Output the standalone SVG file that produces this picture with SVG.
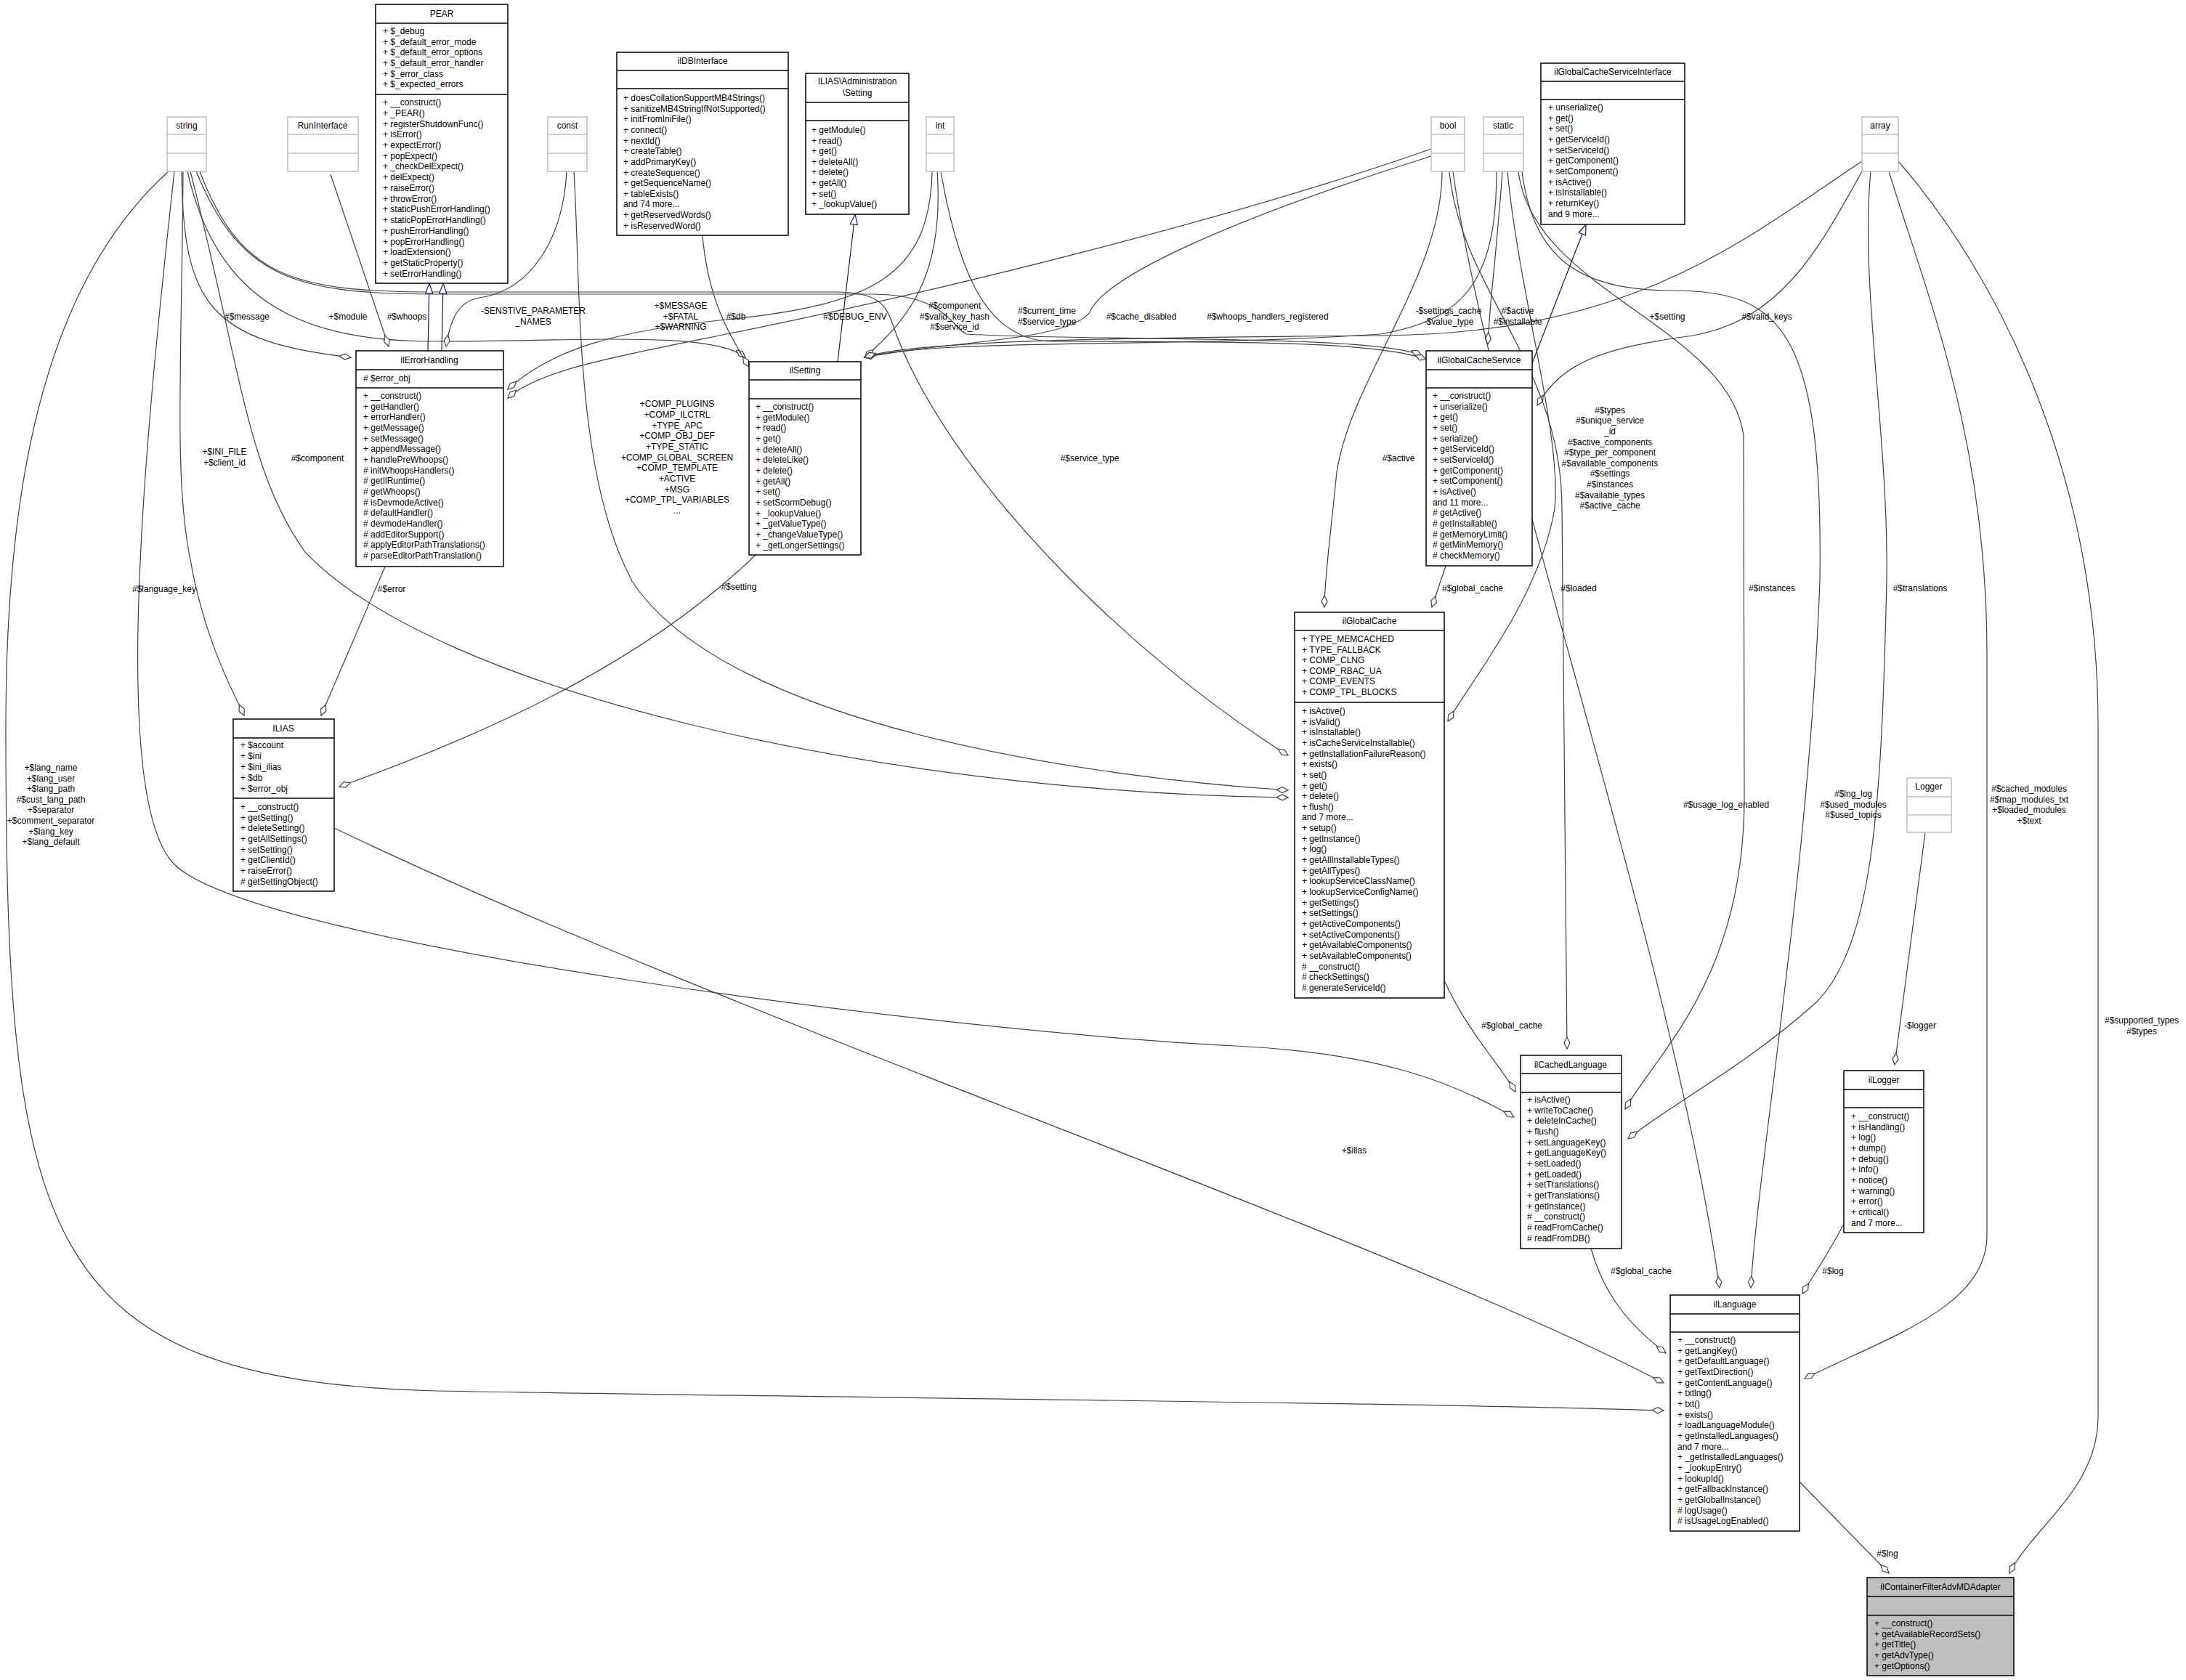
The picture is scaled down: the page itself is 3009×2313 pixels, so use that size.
<svg xmlns="http://www.w3.org/2000/svg" width="3009" height="2313" viewBox="0 0 3009 2313">
<style>
text{font-family:"Liberation Sans",Arial,sans-serif;font-size:12px;fill:#000}
.t{text-anchor:middle}
.box{fill:#fff;stroke:#000;stroke-width:1.5}
.gbox{fill:#fff;stroke:#bfbfbf;stroke-width:1.5}
.sel{fill:#bfbfbf;stroke:#000;stroke-width:1.5}
.sep{stroke:#000;stroke-width:1.5}
.gsep{stroke:#bfbfbf;stroke-width:1.5}
.e path{fill:none;stroke:#404040;stroke-width:1.2;marker-end:url(#dia)}
.e path.inh{stroke:#191970;marker-end:url(#tri)}
.lbl{text-anchor:middle}
</style>
<defs>
<marker id="dia" markerUnits="userSpaceOnUse" markerWidth="18" markerHeight="10" viewBox="0 -5 18 10" refX="17" refY="0" orient="auto"><path d="M1,0 L9,-4 L17,0 L9,4 Z" fill="#fff" stroke="#404040" stroke-width="1.2"/></marker>
<marker id="tri" markerUnits="userSpaceOnUse" markerWidth="16" markerHeight="12" viewBox="0 -6 16 12" refX="15" refY="0" orient="auto"><path d="M1,-5 L15,0 L1,5 Z" fill="#fff" stroke="#191970" stroke-width="1.2"/></marker>
</defs>
<rect width="3009" height="2313" fill="#fff"/>

<g id="connectors" class="e">
<path d="M250,236 C252,420 290,470 483,492"/>
<path d="M258,236 C300,420 420,470 600,470 C800,470 980,455 1026,492"/>
<path d="M455,240 L535,477"/>
<path d="M780,236 C775,330 730,400 660,410 C630,415 620,440 614,477"/>
<path d="M790,236 C800,400 790,650 870,800 C1000,1000 1500,1070 1773,1088"/>
<path d="M1283,236 C1280,380 1200,420 1000,440 C850,455 760,480 699,536"/>
<path d="M1970,205 C1700,300 1300,400 1000,460 C850,490 740,510 699,548"/>
<path d="M967,324 C975,420 1010,470 1031,505"/>
<path d="M1970,215 C1700,300 1520,380 1500,430 C1470,470 1300,470 1190,492"/>
<path d="M1290,236 C1300,380 1250,440 1190,492"/>
<path d="M270,236 C330,380 400,405 600,405 L1200,405 C1300,405 1310,450 1330,460 C1500,470 1900,460 1957,490"/>
<path d="M1295,236 C1320,380 1360,470 1450,470 C1700,470 1900,470 1963,495"/>
<path d="M2060,236 C2060,380 2020,440 1900,460 C1600,480 1300,465 1190,492"/>
<path d="M2068,236 C2060,350 2050,420 2048,474"/>
<path d="M2563,222 C2400,330 2250,460 1900,462 C1500,465 1250,470 1190,492"/>
<path d="M2563,236 C2500,350 2450,440 2330,462 C2200,480 2150,500 2116,558"/>
<path d="M1985,236 C1985,380 1860,520 1840,650 C1830,750 1823,800 1823,836"/>
<path d="M275,236 C330,380 400,402 600,402 L1150,402 C1210,402 1220,420 1230,450 C1300,650 1550,900 1773,1040"/>
<path d="M262,236 C330,500 340,650 420,760 C600,950 1200,1090 1773,1098"/>
<path d="M1990,779 L1971,836"/>
<path d="M2075,236 C2090,400 2150,600 2140,700 C2120,820 2030,930 1993,993"/>
<path d="M1988,1350 C2020,1420 2060,1460 2086,1503"/>
<path d="M1995,236 C2010,400 2150,500 2150,700 L2157,1444"/>
<path d="M240,236 C200,600 150,1100 240,1190 C350,1300 1300,1420 1700,1440 C1900,1450 2000,1490 2084,1538"/>
<path d="M2090,236 C2110,400 2380,450 2400,600 L2401,1100 C2400,1350 2280,1450 2237,1527"/>
<path d="M2575,236 C2560,400 2600,600 2597,800 C2590,1100 2580,1300 2500,1380 C2400,1470 2300,1520 2241,1568"/>
<path d="M252,236 C250,500 240,650 260,760 C280,880 320,950 336,985"/>
<path d="M530,780 L442,985"/>
<path d="M1040,764 C900,900 700,1000 467,1083"/>
<path d="M460,1140 C1000,1400 1900,1700 2290,1904"/>
<path d="M232,236 C50,400 8,700 8,1000 C8,1700 50,1900 600,1915 C1200,1925 2000,1932 2290,1942"/>
<path d="M2190,1719 C2210,1790 2250,1830 2293,1863"/>
<path d="M2000,236 C2050,600 2300,1300 2367,1773"/>
<path d="M2095,236 C2110,360 2180,400 2300,400 C2450,400 2510,450 2505,800 C2490,1200 2420,1600 2410,1773"/>
<path d="M2538,1685 C2520,1720 2500,1750 2481,1781"/>
<path d="M2650,1146 L2608,1466"/>
<path d="M2600,236 C2650,400 2735,600 2735,900 L2735,1700 C2735,1800 2600,1840 2484,1898"/>
<path d="M2613,222 C2750,380 2888,650 2888,1000 L2888,1950 C2888,2050 2800,2100 2766,2166"/>
<path d="M2477,2040 L2600,2166"/>
<path class="inh" d="M589,483 L591,390"/>
<path class="inh" d="M608,483 L610,390"/>
<path class="inh" d="M1153,498 L1177,295"/>
<path class="inh" d="M2109,500 L2183,309"/>
</g>

<g id="labels">
<text class="lbl" x="340" y="440">#$message</text>
<text class="lbl" x="479" y="440">+$module</text>
<text class="lbl" x="560" y="440">#$whoops</text>
<text class="lbl" x="734" y="432">-SENSTIVE_PARAMETER</text>
<text class="lbl" x="734" y="447">_NAMES</text>
<text class="lbl" x="932" y="560">+COMP_PLUGINS</text>
<text class="lbl" x="932" y="575">+COMP_ILCTRL</text>
<text class="lbl" x="932" y="590">+TYPE_APC</text>
<text class="lbl" x="932" y="604">+COMP_OBJ_DEF</text>
<text class="lbl" x="932" y="619">+TYPE_STATIC</text>
<text class="lbl" x="932" y="634">+COMP_GLOBAL_SCREEN</text>
<text class="lbl" x="932" y="648">+COMP_TEMPLATE</text>
<text class="lbl" x="932" y="663">+ACTIVE</text>
<text class="lbl" x="932" y="678">+MSG</text>
<text class="lbl" x="932" y="692">+COMP_TPL_VARIABLES</text>
<text class="lbl" x="932" y="707">...</text>
<text class="lbl" x="937" y="425">+$MESSAGE</text>
<text class="lbl" x="937" y="440">+$FATAL</text>
<text class="lbl" x="937" y="454">+$WARNING</text>
<text class="lbl" x="1013" y="440">#$db</text>
<text class="lbl" x="1177" y="440">#$DEBUG_ENV</text>
<text class="lbl" x="1314" y="425">#$component</text>
<text class="lbl" x="1314" y="440">#$valid_key_hash</text>
<text class="lbl" x="1314" y="454">#$service_id</text>
<text class="lbl" x="1441" y="432">#$current_time</text>
<text class="lbl" x="1441" y="447">#$service_type</text>
<text class="lbl" x="1571" y="440">#$cache_disabled</text>
<text class="lbl" x="1745" y="440">#$whoops_handlers_registered</text>
<text class="lbl" x="1994" y="432">-$settings_cache</text>
<text class="lbl" x="1994" y="447">-$value_type</text>
<text class="lbl" x="2089" y="432">#$active</text>
<text class="lbl" x="2089" y="447">#$installable</text>
<text class="lbl" x="2295" y="440">+$setting</text>
<text class="lbl" x="2432" y="440">#$valid_keys</text>
<text class="lbl" x="2216" y="569">#$types</text>
<text class="lbl" x="2216" y="583">#$unique_service</text>
<text class="lbl" x="2216" y="598">_id</text>
<text class="lbl" x="2216" y="613">#$active_components</text>
<text class="lbl" x="2216" y="627">#$type_per_component</text>
<text class="lbl" x="2216" y="642">#$available_components</text>
<text class="lbl" x="2216" y="656">#$settings</text>
<text class="lbl" x="2216" y="671">#$instances</text>
<text class="lbl" x="2216" y="686">#$available_types</text>
<text class="lbl" x="2216" y="700">#$active_cache</text>
<text class="lbl" x="309" y="626">+$INI_FILE</text>
<text class="lbl" x="309" y="641">+$client_id</text>
<text class="lbl" x="437" y="635">#$component</text>
<text class="lbl" x="1500" y="635">#$service_type</text>
<text class="lbl" x="1925" y="635">#$active</text>
<text class="lbl" x="1017" y="812">#$setting</text>
<text class="lbl" x="226" y="815">#$language_key</text>
<text class="lbl" x="539" y="815">#$error</text>
<text class="lbl" x="2027" y="814">#$global_cache</text>
<text class="lbl" x="2173" y="814">#$loaded</text>
<text class="lbl" x="2439" y="814">#$instances</text>
<text class="lbl" x="2643" y="814">#$translations</text>
<text class="lbl" x="2376" y="1112">#$usage_log_enabled</text>
<text class="lbl" x="2551" y="1097">#$lng_log</text>
<text class="lbl" x="2551" y="1112">#$used_modules</text>
<text class="lbl" x="2551" y="1126">#$used_topics</text>
<text class="lbl" x="2793" y="1090">#$cached_modules</text>
<text class="lbl" x="2793" y="1105">#$map_modules_txt</text>
<text class="lbl" x="2793" y="1119">+$loaded_modules</text>
<text class="lbl" x="2793" y="1134">+$text</text>
<text class="lbl" x="70" y="1061">+$lang_name</text>
<text class="lbl" x="70" y="1076">+$lang_user</text>
<text class="lbl" x="70" y="1090">+$lang_path</text>
<text class="lbl" x="70" y="1105">#$cust_lang_path</text>
<text class="lbl" x="70" y="1119">+$separator</text>
<text class="lbl" x="70" y="1134">+$comment_separator</text>
<text class="lbl" x="70" y="1149">+$lang_key</text>
<text class="lbl" x="70" y="1163">+$lang_default</text>
<text class="lbl" x="2081" y="1416">#$global_cache</text>
<text class="lbl" x="2643" y="1416">-$logger</text>
<text class="lbl" x="2948" y="1409">#$supported_types</text>
<text class="lbl" x="2948" y="1424">#$types</text>
<text class="lbl" x="1864" y="1588">+$ilias</text>
<text class="lbl" x="2259" y="1754">#$global_cache</text>
<text class="lbl" x="2523" y="1754">#$log</text>
<text class="lbl" x="2598" y="2143">#$lng</text>
</g>

<g id="string"><rect class="gbox" x="230" y="161" width="54" height="75"/><line class="gsep" x1="230" y1="185" x2="284" y2="185"/><line class="gsep" x1="230" y1="211" x2="284" y2="211"/><text class="t" x="257" y="177">string</text></g>
<g id="RunInterface"><rect class="gbox" x="396" y="161" width="97" height="75"/><line class="gsep" x1="396" y1="185" x2="493" y2="185"/><line class="gsep" x1="396" y1="211" x2="493" y2="211"/><text class="t" x="444" y="177">RunInterface</text></g>
<g id="const"><rect class="gbox" x="754" y="161" width="54" height="75"/><line class="gsep" x1="754" y1="185" x2="808" y2="185"/><line class="gsep" x1="754" y1="211" x2="808" y2="211"/><text class="t" x="781" y="177">const</text></g>
<g id="int"><rect class="gbox" x="1275" y="161" width="38" height="75"/><line class="gsep" x1="1275" y1="185" x2="1313" y2="185"/><line class="gsep" x1="1275" y1="211" x2="1313" y2="211"/><text class="t" x="1294" y="177">int</text></g>
<g id="bool"><rect class="gbox" x="1970" y="161" width="46" height="75"/><line class="gsep" x1="1970" y1="185" x2="2016" y2="185"/><line class="gsep" x1="1970" y1="211" x2="2016" y2="211"/><text class="t" x="1993" y="177">bool</text></g>
<g id="static"><rect class="gbox" x="2042" y="161" width="55" height="75"/><line class="gsep" x1="2042" y1="185" x2="2097" y2="185"/><line class="gsep" x1="2042" y1="211" x2="2097" y2="211"/><text class="t" x="2069" y="177">static</text></g>
<g id="array"><rect class="gbox" x="2563" y="161" width="50" height="75"/><line class="gsep" x1="2563" y1="185" x2="2613" y2="185"/><line class="gsep" x1="2563" y1="211" x2="2613" y2="211"/><text class="t" x="2588" y="177">array</text></g>
<g id="Logger"><rect class="gbox" x="2625" y="1071" width="61" height="75"/><line class="gsep" x1="2625" y1="1097" x2="2686" y2="1097"/><line class="gsep" x1="2625" y1="1122" x2="2686" y2="1122"/><text class="t" x="2655" y="1087">Logger</text></g>

<g id="PEAR"><rect class="box" x="517" y="6" width="182" height="384"/><line class="sep" x1="517" y1="32" x2="699" y2="32"/><line class="sep" x1="517" y1="130" x2="699" y2="130"/>
<text class="t" x="608" y="23">PEAR</text>
<text x="527" y="47">+ $_debug</text><text x="527" y="62">+ $_default_error_mode</text><text x="527" y="76">+ $_default_error_options</text><text x="527" y="91">+ $_default_error_handler</text><text x="527" y="106">+ $_error_class</text><text x="527" y="120">+ $_expected_errors</text>
<text x="527" y="145">+ __construct()</text><text x="527" y="160">+ _PEAR()</text><text x="527" y="175">+ registerShutdownFunc()</text><text x="527" y="189">+ isError()</text><text x="527" y="204">+ expectError()</text><text x="527" y="219">+ popExpect()</text><text x="527" y="233">+ _checkDelExpect()</text><text x="527" y="248">+ delExpect()</text><text x="527" y="263">+ raiseError()</text><text x="527" y="278">+ throwError()</text><text x="527" y="292">+ staticPushErrorHandling()</text><text x="527" y="307">+ staticPopErrorHandling()</text><text x="527" y="322">+ pushErrorHandling()</text><text x="527" y="337">+ popErrorHandling()</text><text x="527" y="351">+ loadExtension()</text><text x="527" y="366">+ getStaticProperty()</text><text x="527" y="381">+ setErrorHandling()</text></g>

<g id="ilDBInterface"><rect class="box" x="849" y="72" width="236" height="252"/><line class="sep" x1="849" y1="97" x2="1085" y2="97"/><line class="sep" x1="849" y1="122" x2="1085" y2="122"/>
<text class="t" x="967" y="88">ilDBInterface</text>
<text x="858" y="139">+ doesCollationSupportMB4Strings()</text><text x="858" y="154">+ sanitizeMB4StringIfNotSupported()</text><text x="858" y="168">+ initFromIniFile()</text><text x="858" y="183">+ connect()</text><text x="858" y="198">+ nextId()</text><text x="858" y="212">+ createTable()</text><text x="858" y="227">+ addPrimaryKey()</text><text x="858" y="242">+ createSequence()</text><text x="858" y="256">+ getSequenceName()</text><text x="858" y="271">+ tableExists()</text><text x="858" y="285">and 74 more...</text><text x="858" y="300">+ getReservedWords()</text><text x="858" y="315">+ isReservedWord()</text></g>

<g id="AdminSetting"><rect class="box" x="1109" y="101" width="142" height="194"/><line class="sep" x1="1109" y1="141" x2="1251" y2="141"/><line class="sep" x1="1109" y1="166" x2="1251" y2="166"/>
<text class="t" x="1180" y="116">ILIAS\Administration</text><text class="t" x="1180" y="132">\Setting</text>
<text x="1117" y="183">+ getModule()</text><text x="1117" y="198">+ read()</text><text x="1117" y="212">+ get()</text><text x="1117" y="227">+ deleteAll()</text><text x="1117" y="241">+ delete()</text><text x="1117" y="256">+ getAll()</text><text x="1117" y="271">+ set()</text><text x="1117" y="285">+ _lookupValue()</text></g>

<g id="ilGlobalCacheServiceInterface"><rect class="box" x="2121" y="87" width="198" height="222"/><line class="sep" x1="2121" y1="112" x2="2319" y2="112"/><line class="sep" x1="2121" y1="137" x2="2319" y2="137"/>
<text class="t" x="2220" y="103">ilGlobalCacheServiceInterface</text>
<text x="2131" y="152">+ unserialize()</text><text x="2131" y="167">+ get()</text><text x="2131" y="181">+ set()</text><text x="2131" y="196">+ getServiceId()</text><text x="2131" y="211">+ setServiceId()</text><text x="2131" y="225">+ getComponent()</text><text x="2131" y="240">+ setComponent()</text><text x="2131" y="255">+ isActive()</text><text x="2131" y="269">+ isInstallable()</text><text x="2131" y="284">+ returnKey()</text><text x="2131" y="299">and 9 more...</text></g>

<g id="ilErrorHandling"><rect class="box" x="490" y="483" width="203" height="297"/><line class="sep" x1="490" y1="509" x2="693" y2="509"/><line class="sep" x1="490" y1="534" x2="693" y2="534"/>
<text class="t" x="591" y="500">ilErrorHandling</text>
<text x="500" y="525"># $error_obj</text>
<text x="500" y="549">+ __construct()</text><text x="500" y="564">+ getHandler()</text><text x="500" y="578">+ errorHandler()</text><text x="500" y="593">+ getMessage()</text><text x="500" y="608">+ setMessage()</text><text x="500" y="622">+ appendMessage()</text><text x="500" y="637">+ handlePreWhoops()</text><text x="500" y="652"># initWhoopsHandlers()</text><text x="500" y="666"># getIlRuntime()</text><text x="500" y="681"># getWhoops()</text><text x="500" y="696"># isDevmodeActive()</text><text x="500" y="710"># defaultHandler()</text><text x="500" y="725"># devmodeHandler()</text><text x="500" y="740"># addEditorSupport()</text><text x="500" y="754"># applyEditorPathTranslations()</text><text x="500" y="769"># parseEditorPathTranslation()</text></g>

<g id="ilSetting"><rect class="box" x="1031" y="498" width="154" height="266"/><line class="sep" x1="1031" y1="523" x2="1185" y2="523"/><line class="sep" x1="1031" y1="549" x2="1185" y2="549"/>
<text class="t" x="1108" y="514">ilSetting</text>
<text x="1040" y="564">+ __construct()</text><text x="1040" y="579">+ getModule()</text><text x="1040" y="593">+ read()</text><text x="1040" y="608">+ get()</text><text x="1040" y="623">+ deleteAll()</text><text x="1040" y="637">+ deleteLike()</text><text x="1040" y="652">+ delete()</text><text x="1040" y="667">+ getAll()</text><text x="1040" y="681">+ set()</text><text x="1040" y="696">+ setScormDebug()</text><text x="1040" y="711">+ _lookupValue()</text><text x="1040" y="725">+ _getValueType()</text><text x="1040" y="740">+ _changeValueType()</text><text x="1040" y="755">+ _getLongerSettings()</text></g>

<g id="ilGlobalCacheService"><rect class="box" x="1963" y="483" width="146" height="296"/><line class="sep" x1="1963" y1="509" x2="2109" y2="509"/><line class="sep" x1="1963" y1="534" x2="2109" y2="534"/>
<text class="t" x="2036" y="500">ilGlobalCacheService</text>
<text x="1972" y="549">+ __construct()</text><text x="1972" y="564">+ unserialize()</text><text x="1972" y="578">+ get()</text><text x="1972" y="593">+ set()</text><text x="1972" y="608">+ serialize()</text><text x="1972" y="622">+ getServiceId()</text><text x="1972" y="637">+ setServiceId()</text><text x="1972" y="652">+ getComponent()</text><text x="1972" y="666">+ setComponent()</text><text x="1972" y="681">+ isActive()</text><text x="1972" y="696">and 11 more...</text><text x="1972" y="710"># getActive()</text><text x="1972" y="725"># getInstallable()</text><text x="1972" y="740"># getMemoryLimit()</text><text x="1972" y="754"># getMinMemory()</text><text x="1972" y="769"># checkMemory()</text></g>

<g id="ILIAS"><rect class="box" x="321" y="990" width="139" height="237"/><line class="sep" x1="321" y1="1016" x2="460" y2="1016"/><line class="sep" x1="321" y1="1099" x2="460" y2="1099"/>
<text class="t" x="390" y="1007">ILIAS</text>
<text x="331" y="1030">+ $account</text><text x="331" y="1045">+ $ini</text><text x="331" y="1060">+ $ini_ilias</text><text x="331" y="1075">+ $db</text><text x="331" y="1090">+ $error_obj</text>
<text x="331" y="1115">+ __construct()</text><text x="331" y="1130">+ getSetting()</text><text x="331" y="1144">+ deleteSetting()</text><text x="331" y="1159">+ getAllSettings()</text><text x="331" y="1174">+ setSetting()</text><text x="331" y="1188">+ getClientId()</text><text x="331" y="1203">+ raiseError()</text><text x="331" y="1218"># getSettingObject()</text></g>

<g id="ilGlobalCache"><rect class="box" x="1782" y="843" width="206" height="531"/><line class="sep" x1="1782" y1="868" x2="1988" y2="868"/><line class="sep" x1="1782" y1="967" x2="1988" y2="967"/>
<text class="t" x="1885" y="859">ilGlobalCache</text>
<text x="1792" y="884">+ TYPE_MEMCACHED</text><text x="1792" y="899">+ TYPE_FALLBACK</text><text x="1792" y="913">+ COMP_CLNG</text><text x="1792" y="928">+ COMP_RBAC_UA</text><text x="1792" y="942">+ COMP_EVENTS</text><text x="1792" y="957">+ COMP_TPL_BLOCKS</text>
<text x="1792" y="983">+ isActive()</text><text x="1792" y="998">+ isValid()</text><text x="1792" y="1012">+ isInstallable()</text><text x="1792" y="1027">+ isCacheServiceInstallable()</text><text x="1792" y="1042">+ getInstallationFailureReason()</text><text x="1792" y="1056">+ exists()</text><text x="1792" y="1071">+ set()</text><text x="1792" y="1086">+ get()</text><text x="1792" y="1100">+ delete()</text><text x="1792" y="1115">+ flush()</text><text x="1792" y="1129">and 7 more...</text><text x="1792" y="1144">+ setup()</text><text x="1792" y="1159">+ getInstance()</text><text x="1792" y="1173">+ log()</text><text x="1792" y="1188">+ getAllInstallableTypes()</text><text x="1792" y="1203">+ getAllTypes()</text><text x="1792" y="1217">+ lookupServiceClassName()</text><text x="1792" y="1232">+ lookupServiceConfigName()</text><text x="1792" y="1247">+ getSettings()</text><text x="1792" y="1261">+ setSettings()</text><text x="1792" y="1276">+ getActiveComponents()</text><text x="1792" y="1291">+ setActiveComponents()</text><text x="1792" y="1305">+ getAvailableComponents()</text><text x="1792" y="1320">+ setAvailableComponents()</text><text x="1792" y="1335"># __construct()</text><text x="1792" y="1349"># checkSettings()</text><text x="1792" y="1364"># generateServiceId()</text></g>

<g id="ilCachedLanguage"><rect class="box" x="2093" y="1453" width="139" height="266"/><line class="sep" x1="2093" y1="1478" x2="2232" y2="1478"/><line class="sep" x1="2093" y1="1504" x2="2232" y2="1504"/>
<text class="t" x="2162" y="1470">ilCachedLanguage</text>
<text x="2102" y="1518">+ isActive()</text><text x="2102" y="1533">+ writeToCache()</text><text x="2102" y="1547">+ deleteInCache()</text><text x="2102" y="1562">+ flush()</text><text x="2102" y="1577">+ setLanguageKey()</text><text x="2102" y="1591">+ getLanguageKey()</text><text x="2102" y="1606">+ setLoaded()</text><text x="2102" y="1621">+ getLoaded()</text><text x="2102" y="1635">+ setTranslations()</text><text x="2102" y="1650">+ getTranslations()</text><text x="2102" y="1665">+ getInstance()</text><text x="2102" y="1679"># __construct()</text><text x="2102" y="1694"># readFromCache()</text><text x="2102" y="1709"># readFromDB()</text></g>

<g id="ilLogger"><rect class="box" x="2538" y="1474" width="110" height="223"/><line class="sep" x1="2538" y1="1500" x2="2648" y2="1500"/><line class="sep" x1="2538" y1="1525" x2="2648" y2="1525"/>
<text class="t" x="2593" y="1491">ilLogger</text>
<text x="2548" y="1541">+ __construct()</text><text x="2548" y="1556">+ isHandling()</text><text x="2548" y="1570">+ log()</text><text x="2548" y="1585">+ dump()</text><text x="2548" y="1600">+ debug()</text><text x="2548" y="1614">+ info()</text><text x="2548" y="1629">+ notice()</text><text x="2548" y="1644">+ warning()</text><text x="2548" y="1658">+ error()</text><text x="2548" y="1673">+ critical()</text><text x="2548" y="1688">and 7 more...</text></g>

<g id="ilLanguage"><rect class="box" x="2299" y="1783" width="178" height="325"/><line class="sep" x1="2299" y1="1809" x2="2477" y2="1809"/><line class="sep" x1="2299" y1="1834" x2="2477" y2="1834"/>
<text class="t" x="2388" y="1800">ilLanguage</text>
<text x="2309" y="1849">+ __construct()</text><text x="2309" y="1864">+ getLangKey()</text><text x="2309" y="1878">+ getDefaultLanguage()</text><text x="2309" y="1893">+ getTextDirection()</text><text x="2309" y="1908">+ getContentLanguage()</text><text x="2309" y="1922">+ txtlng()</text><text x="2309" y="1937">+ txt()</text><text x="2309" y="1952">+ exists()</text><text x="2309" y="1966">+ loadLanguageModule()</text><text x="2309" y="1981">+ getInstalledLanguages()</text><text x="2309" y="1996">and 7 more...</text><text x="2309" y="2010">+ _getInstalledLanguages()</text><text x="2309" y="2025">+ _lookupEntry()</text><text x="2309" y="2040">+ lookupId()</text><text x="2309" y="2054">+ getFallbackInstance()</text><text x="2309" y="2069">+ getGlobalInstance()</text><text x="2309" y="2084"># logUsage()</text><text x="2309" y="2098"># isUsageLogEnabled()</text></g>

<g id="ilContainerFilterAdvMDAdapter"><rect class="sel" x="2570" y="2172" width="202" height="135"/><line class="sep" x1="2570" y1="2198" x2="2772" y2="2198"/><line class="sep" x1="2570" y1="2224" x2="2772" y2="2224"/>
<text class="t" x="2671" y="2189">ilContainerFilterAdvMDAdapter</text>
<text x="2580" y="2239">+ __construct()</text><text x="2580" y="2254">+ getAvailableRecordSets()</text><text x="2580" y="2268">+ getTitle()</text><text x="2580" y="2283">+ getAdvType()</text><text x="2580" y="2298">+ getOptions()</text></g>
</svg>
